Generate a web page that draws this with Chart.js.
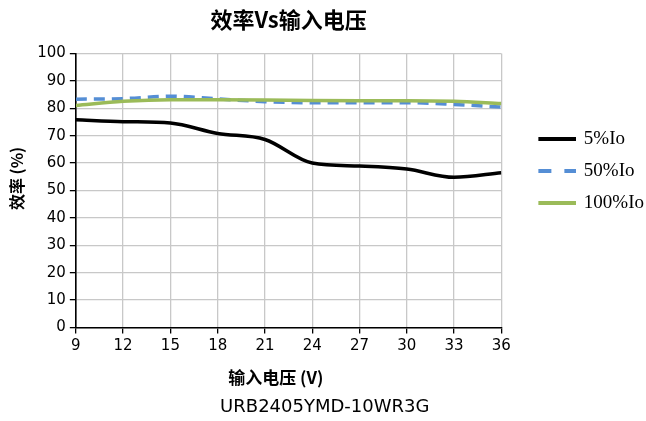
<!DOCTYPE html>
<html>
<head>
<meta charset="utf-8">
<script src="https://cdn.jsdelivr.net/npm/chart.js@4.4.1/dist/chart.umd.min.js"></script>
<style>
  html, body { margin: 0; padding: 0; background: #fff; }
  #wrap { width: 646px; height: 421px; position: relative; }
</style>
</head>
<body>
<div id="wrap"><canvas id="effChart"></canvas></div>
<script>
// input voltage (V) on the x axis
var voltages = [9, 12, 15, 18, 21, 24, 27, 30, 33, 36];

// efficiency (%)
var eff5 = [75.8, 75.1, 74.6, 70.8, 68.6, 60.0, 58.9, 57.8, 54.8, 56.5];
var eff50 = [83.3, 83.5, 84.4, 83.4, 82.4, 82.0, 82.0, 82.0, 81.4, 80.4];
var eff100 = [81.0, 82.5, 83.1, 83.1, 83.0, 82.8, 82.7, 82.7, 82.5, 81.7];

var seriesNames = ['5%Io', '50%Io', '100%Io'];
var xTicks = [9, 12, 15, 18, 21, 24, 27, 30, 33, 36];

var latinFont = '"DejaVu Sans", "Noto Sans CJK SC", sans-serif';
var cjkFont = '"Noto Sans CJK SC", "DejaVu Sans", sans-serif';

function toPoints(vals) {
    return voltages.map(function (v, i) { return { x: v, y: vals[i] }; });
}

// legend swatches: transparent lead-in (keeps a gap to the plot), then a short line
var LEAD = 26;
function swatch(color, dashed) {
    var c = document.createElement('canvas');
    c.width = LEAD + 38;
    c.height = 4;
    var g = c.getContext('2d');
    g.fillStyle = color;
    if (dashed) {
        g.fillRect(LEAD, 0, 13, 4);
        g.fillRect(LEAD + 26, 0, 12, 4);
    } else {
        g.fillRect(LEAD, 0, 38, 4);
    }
    return c;
}
var swatches = [swatch('#000000', false), swatch('#558ed5', true), swatch('#9bbb59', false)];

var effChart = new Chart(document.getElementById('effChart'), {
    type: 'line',
    data: {
        datasets: [{
            label: seriesNames[0],
            data: toPoints(eff5),
            borderColor: '#000000',
            backgroundColor: '#000000',
            borderWidth: 3.5,
            order: 2
        }, {
            label: seriesNames[1],
            data: toPoints(eff50),
            borderColor: '#558ed5',
            backgroundColor: '#558ed5',
            borderWidth: 3.5,
            borderDash: [11, 7],
            order: 1
        }, {
            label: seriesNames[2],
            data: toPoints(eff100),
            borderColor: '#9bbb59',
            backgroundColor: '#9bbb59',
            borderWidth: 3.5,
            order: 0
        }]
    },
    options: {
        responsive: true,
        maintainAspectRatio: false,
        animation: false,
        layout: { padding: { left: 7, right: -8, top: 0, bottom: 2.5 } },
        elements: {
            point: { radius: 0, hoverRadius: 0 },
            line: { tension: 0.4, cubicInterpolationMode: 'monotone', borderCapStyle: 'butt' }
        },
        plugins: {
            tooltip: { enabled: false },
            title: {
                display: true,
                text: '效率Vs输入电压',
                fullSize: false,
                color: '#000',
                font: { family: cjkFont, size: 22, weight: 'bold' },
                padding: { top: 6, bottom: 21 }
            },
            subtitle: {
                display: true,
                position: 'bottom',
                text: 'URB2405YMD-10WR3G  ',
                color: '#000',
                font: { family: latinFont, size: 18 },
                padding: { top: 9.5, bottom: 0 }
            },
            legend: {
                display: true,
                position: 'right',
                align: 'start',
                fullSize: false,
                title: {
                    display: true,
                    text: ' ',
                    font: { size: 10 },
                    padding: { top: 51, bottom: 0 }
                },
                labels: {
                    usePointStyle: true,
                    pointStyleWidth: LEAD + 34,
                    boxHeight: 19,
                    color: '#000',
                    font: { family: '"Liberation Serif", serif', size: 19 },
                    padding: 13,
                    sort: function (a, b) { return a.datasetIndex - b.datasetIndex; },
                    generateLabels: function (chart) {
                        var items = Chart.defaults.plugins.legend.labels.generateLabels(chart);
                        items.forEach(function (it) { it.pointStyle = swatches[it.datasetIndex]; });
                        return items;
                    }
                }
            }
        },
        scales: {
            x: {
                type: 'linear',
                min: 9,
                max: 36,
                afterBuildTicks: function (axis) {
                    axis.ticks = xTicks.map(function (v) { return { value: v }; });
                },
                grid: {
                    color: '#c8c8c8',
                    lineWidth: 1.3,
                    tickColor: '#000',
                    tickLength: 6
                },
                border: { color: '#000', width: 1.6 },
                ticks: {
                    color: '#000',
                    font: { family: latinFont, size: 15 },
                    padding: 4,
                    maxRotation: 0
                },
                title: {
                    display: true,
                    text: '输入电压 (V)\u3000\u2002',
                    color: '#000',
                    font: { family: cjkFont, size: 17, weight: 'bold' },
                    padding: { top: 7.5, bottom: 0 }
                }
            },
            y: {
                min: 0,
                max: 100,
                ticks: {
                    stepSize: 10,
                    color: '#000',
                    font: { family: latinFont, size: 15 },
                    padding: 4
                },
                grid: {
                    color: '#c8c8c8',
                    lineWidth: 1.3,
                    tickColor: '#000',
                    tickLength: 6
                },
                border: { color: '#000', width: 1.6 },
                title: {
                    display: true,
                    text: '\u3000\u2002效率 (%)',
                    color: '#000',
                    font: { family: cjkFont, size: 16, weight: 'bold' },
                    padding: { top: 0, bottom: 7 }
                }
            }
        }
    }
});
</script>
</body>
</html>
